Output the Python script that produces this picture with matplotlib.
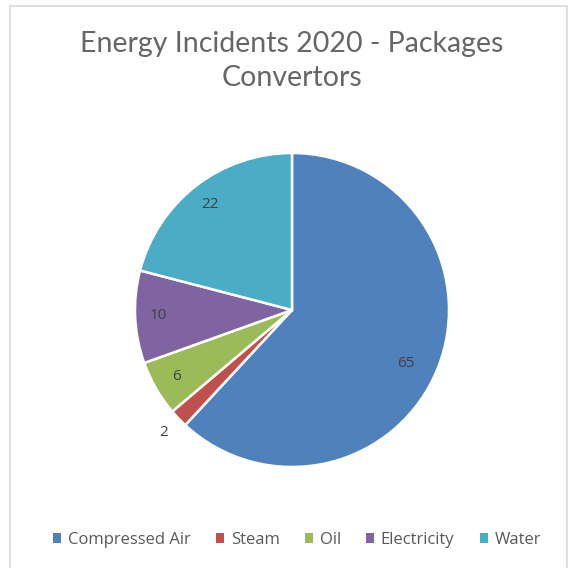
import matplotlib
matplotlib.use("Agg")
import matplotlib.pyplot as plt
from matplotlib.patches import Rectangle
import numpy as np

categories = ["Compressed Air", "Steam", "Oil", "Electricity", "Water"]
values = [65, 2, 6, 10, 22]
colors = ["#4F81BD", "#C0504D", "#9BBB59", "#8064A2", "#4BACC6"]
title = "Energy Incidents 2020 - Packages\nConvertors"

W, H = 576, 568
fig = plt.figure(figsize=(W / 100, H / 100), dpi=100)
fig.patch.set_facecolor("white")

# chart frame
fig.add_artist(Rectangle((10 / W, -0.01), (567 - 10) / W, (H - 6) / H + 0.01,
                         transform=fig.transFigure, fill=False,
                         edgecolor="#D9D9D9", linewidth=1.2))

cx, cy, R = 292, 310, 157
ax = fig.add_axes([(cx - R) / W, (H - cy - R) / H, 2 * R / W, 2 * R / H])
wedges, _ = ax.pie(values, colors=colors, startangle=90, counterclock=False,
                   wedgeprops=dict(edgecolor="white", linewidth=1.8))
ax.set_xlim(-1, 1)
ax.set_ylim(-1, 1)
ax.set_aspect("equal")
ax.axis("off")

total = sum(values)
for w, v in zip(wedges, values):
    mid = np.deg2rad((w.theta1 + w.theta2) / 2)
    frac = v / total
    if frac < 0.03:
        r = 1.13
    elif frac > 0.5:
        r = 0.80
        mid -= np.deg2rad(4)
    else:
        r = 0.85
    ax.text(r * np.cos(mid), r * np.sin(mid), str(v), ha="center", va="center",
            fontsize=11, color="#404040", fontfamily="Open Sans")

fig.text(cx / W, 1 - 61 / H, title, ha="center", va="center", fontsize=20.5,
         color="#666666", fontfamily="Lato", linespacing=1.4)

handles = [Rectangle((0, 0), 1, 1, facecolor=c, edgecolor="none") for c in colors]
leg = fig.legend(handles, categories, loc="center", bbox_to_anchor=(297 / W, 1 - 540 / H),
                 ncol=5, frameon=False, handlelength=0.5, handleheight=0.5,
                 handletextpad=0.4, columnspacing=1.5,
                 prop=dict(family="Open Sans", size=12))
for t in leg.get_texts():
    t.set_color("#595959")

fig.savefig("out.png", dpi=100, facecolor="white")
